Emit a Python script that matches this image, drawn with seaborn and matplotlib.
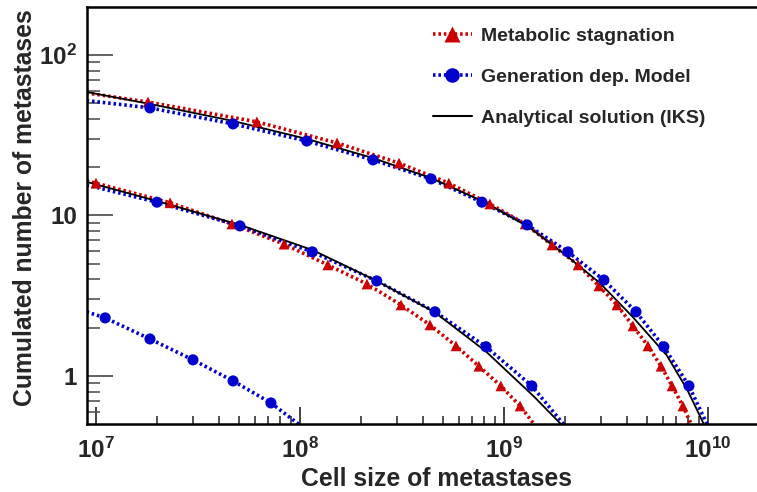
import numpy as np
import matplotlib
matplotlib.use("Agg")
import matplotlib.pyplot as plt
from matplotlib.lines import Line2D
from matplotlib.ticker import NullFormatter, LogLocator
import seaborn as sns

# ---- data ----
# upper group
ms_top_x = [1.80e7, 6.15e7, 1.52e8, 3.06e8, 5.37e8, 8.53e8, 1.27e9, 1.72e9,
            2.31e9, 2.92e9, 3.58e9, 4.29e9, 5.08e9, 5.89e9, 6.67e9, 7.54e9]
ms_top_y = [50.9, 38.3, 28.3, 21.2, 15.9, 11.8, 8.85, 6.55,
            4.92, 3.64, 2.77, 2.05, 1.54, 1.15, 0.867, 0.650]
gd_top_x = [1.84e7, 4.70e7, 1.08e8, 2.28e8, 4.39e8, 7.80e8, 1.30e9, 2.06e9,
            3.09e9, 4.44e9, 6.08e9, 8.07e9]
gd_top_y = [46.8, 37.2, 29.1, 22.2, 16.9, 12.1, 8.73, 5.93,
            3.96, 2.51, 1.52, 0.867]
iks_top_x = [9.0e6, 1.84e7, 4.70e7, 1.08e8, 2.28e8, 4.39e8, 7.80e8, 1.30e9,
             2.03e9, 2.95e9, 4.28e9, 6.27e9, 7.93e9, 9.49e9, 1.0e10]
iks_top_y = [58.8, 49.5, 38.8, 30.0, 22.8, 17.1, 12.3, 8.61,
             5.60, 3.80, 2.33, 1.35, 0.818, 0.509, 0.45]

# middle group
ms_mid_x = [1.00e7, 2.31e7, 4.64e7, 8.36e7, 1.37e8, 2.13e8, 3.13e8, 4.34e8,
            5.82e8, 7.54e8, 9.66e8, 1.20e9]
ms_mid_y = [15.9, 12.0, 8.85, 6.63, 4.92, 3.74, 2.77, 2.08,
            1.54, 1.15, 0.867, 0.650]
gd_mid_x = [1.99e7, 5.08e7, 1.15e8, 2.38e8, 4.59e8, 8.17e8, 1.37e9]
gd_mid_y = [12.1, 8.61, 5.93, 3.91, 2.51, 1.52, 0.867]
iks_mid_x = [9.0e6, 1.99e7, 5.08e7, 1.15e8, 2.38e8, 4.59e8, 8.17e8, 1.41e9,
             1.92e9, 2.0e9]
iks_mid_y = [16.2, 12.3, 8.73, 6.10, 3.91, 2.49, 1.42, 0.740, 0.495, 0.45]

# lower group (generation dependent model only)
gd_low_x = [1.11e7, 1.84e7, 2.99e7, 4.70e7, 7.21e7]
gd_low_y = [2.30, 1.70, 1.26, 0.931, 0.679]

# curve ends outside the markers
ms_top_ends = ([9.0e6, 8.6e9], [58.0, 0.45])
gd_top_ends = ([9.0e6, 1.03e10], [52.0, 0.45])
ms_mid_ends = ([9.0e6, 1.5e9], [16.4, 0.45])
gd_mid_ends = ([9.0e6, 2.1e9], [15.5, 0.45])
gd_low_ends = ([9.0e6, 1.1e8], [2.51, 0.45])

x_ticks = [1e7, 1e8, 1e9, 1e10]
x_labels = ["$10^{7}$", "$10^{8}$", "$10^{9}$", "$10^{10}$"]
y_ticks = [1, 10, 100]
y_labels = ["1", "10", "$10^{2}$"]

RED = "#cc0000"
BLUE = "#0000cc"

sns.set_theme(style="ticks")
plt.rcParams["font.family"] = ["Liberation Sans", "DejaVu Sans"]
plt.rcParams["font.weight"] = "bold"
plt.rcParams["mathtext.fontset"] = "custom"
plt.rcParams["mathtext.rm"] = "Liberation Sans:bold"
plt.rcParams["mathtext.it"] = "Liberation Sans:bold"
plt.rcParams["mathtext.bf"] = "Liberation Sans:bold"

fig = plt.figure(figsize=(7.57, 4.92), dpi=100)
ax = fig.add_axes([87 / 757, 1 - 424 / 492, 670 / 757, 417 / 492])

dot = (0, (0.7, 0.8))


def with_ends(xs, ys, ends):
    # glue the curve ends on either side of the marker points
    return [ends[0][0]] + xs + [ends[0][1]], [ends[1][0]] + ys + [ends[1][1]]


for xs, ys, ends, col in [
    (ms_top_x, ms_top_y, ms_top_ends, RED),
    (gd_top_x, gd_top_y, gd_top_ends, BLUE),
    (ms_mid_x, ms_mid_y, ms_mid_ends, RED),
    (gd_mid_x, gd_mid_y, gd_mid_ends, BLUE),
    (gd_low_x, gd_low_y, gd_low_ends, BLUE),
]:
    lx, ly = with_ends(xs, ys, ends)
    sns.lineplot(x=lx, y=ly, ax=ax, color=col, lw=2.6, linestyle=dot,
                 estimator=None, sort=False, zorder=2)

for xs, ys in [(iks_top_x, iks_top_y), (iks_mid_x, iks_mid_y)]:
    sns.lineplot(x=xs, y=ys, ax=ax, color="black", lw=1.3,
                 estimator=None, sort=False, zorder=3)

for xs, ys in [(ms_top_x, ms_top_y), (ms_mid_x, ms_mid_y)]:
    sns.scatterplot(x=xs, y=ys, ax=ax, color=RED, marker="^", s=60,
                    edgecolor="none", zorder=4)
for xs, ys in [(gd_top_x, gd_top_y), (gd_mid_x, gd_mid_y), (gd_low_x, gd_low_y)]:
    sns.scatterplot(x=xs, y=ys, ax=ax, color=BLUE, marker="o", s=64,
                    edgecolor="none", zorder=4)

ax.set_xscale("log")
ax.set_yscale("log")
ax.set_xlim(9.04e6, 1.74e10)
ax.set_ylim(0.502, 199)

ax.set_xticks(x_ticks, labels=x_labels)
ax.set_yticks(y_ticks, labels=y_labels)
ax.xaxis.set_minor_locator(LogLocator(base=10, subs=np.arange(2, 10)))
ax.yaxis.set_minor_locator(LogLocator(base=10, subs=np.arange(2, 10)))
ax.xaxis.set_minor_formatter(NullFormatter())
ax.yaxis.set_minor_formatter(NullFormatter())

ax.tick_params(axis="x", which="major", direction="in", length=12, width=1.3,
               color="#333333", labelsize=17.5, pad=10)
ax.tick_params(axis="x", which="minor", direction="in", length=6, width=1.2,
               color="#333333")
ax.tick_params(axis="y", which="major", direction="in", length=19, width=1.3,
               color="#555555", labelsize=17.5, pad=7)
ax.tick_params(axis="y", which="minor", direction="in", length=9, width=1.2,
               color="#555555")

for side in ["left", "bottom", "top"]:
    ax.spines[side].set_linewidth(1.8)
    ax.spines[side].set_color("black")
ax.spines["right"].set_visible(False)

ax.set_xlabel("Cell size of metastases", fontsize=17.8, fontweight="bold", va="center")
ax.xaxis.set_label_coords(0.522, -0.132)
ax.set_ylabel("Cumulated number of metastases", fontsize=17.8, fontweight="bold",
              va="center")
ax.yaxis.set_label_coords(-0.093, 0.518)

handles = [
    Line2D([], [], color=RED, lw=2.6, linestyle=dot, marker="^", markersize=11,
           markeredgecolor="none"),
    Line2D([], [], color=BLUE, lw=2.6, linestyle=dot, marker="o", markersize=10.5,
           markeredgecolor="none"),
    Line2D([], [], color="black", lw=1.5),
]
ax.legend(handles, ["Metabolic stagnation", "Generation dep. Model",
                    "Analytical solution (IKS)"],
          loc="upper left", bbox_to_anchor=((433 - 87) / 670, (424 - 27) / 417),
          frameon=False, fontsize=14, handlelength=2.0, handletextpad=0.45,
          labelspacing=1.22, borderpad=0, borderaxespad=0)

fig.savefig("out.png", dpi=100)
